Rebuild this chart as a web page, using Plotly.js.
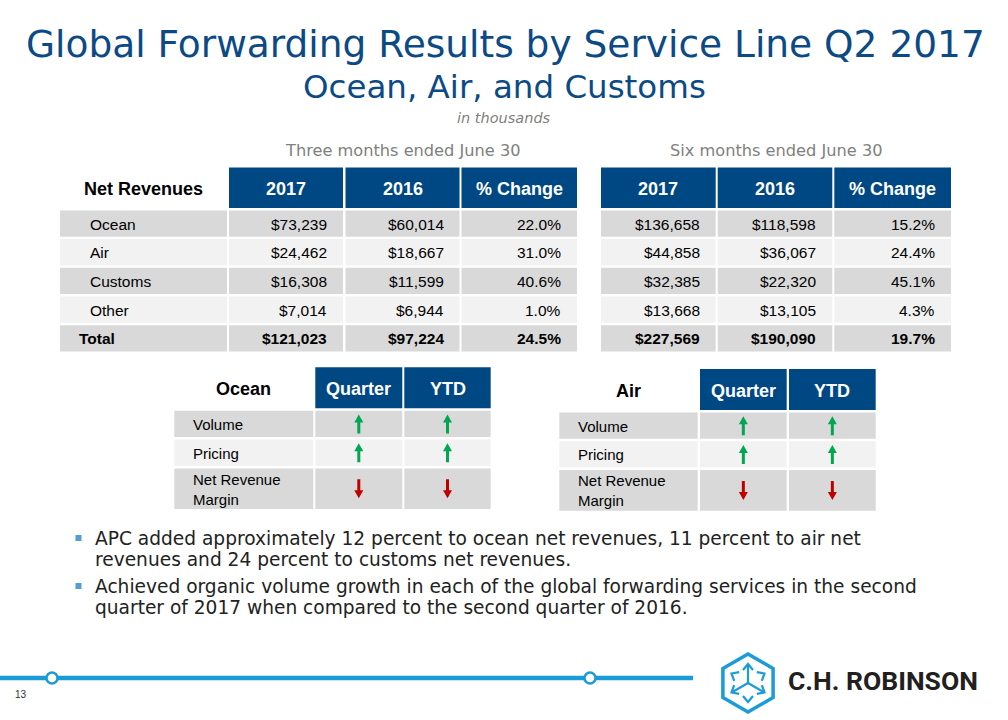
<!DOCTYPE html>
<html><head><meta charset="utf-8">
<script src="https://cdn.plot.ly/plotly-3.0.1.min.js"></script>
<style>html,body{margin:0;padding:0;background:#fff}#chart{width:1008px;height:720px}</style>
</head><body><div id="chart"></div>
<script>
// ---------------- data ----------------
const titleText = "Global Forwarding Results by Service Line Q2 2017";
const subtitleText = "Ocean, Air, and Customs";
const unitText = "in thousands";
const periodLabels = ["Three months ended June 30", "Six months ended June 30"];
const tableCorner = "Net Revenues";
const yearHeaders = ["2017", "2016", "% Change"];
const rowLabels = ["Ocean", "Air", "Customs", "Other", "Total"];
const q2017 = ["$73,239", "$24,462", "$16,308", "$7,014", "$121,023"];
const q2016 = ["$60,014", "$18,667", "$11,599", "$6,944", "$97,224"];
const qChange = ["22.0%", "31.0%", "40.6%", "1.0%", "24.5%"];
const ytd2017 = ["$136,658", "$44,858", "$32,385", "$13,668", "$227,569"];
const ytd2016 = ["$118,598", "$36,067", "$22,320", "$13,105", "$190,090"];
const ytdChange = ["15.2%", "24.4%", "45.1%", "4.3%", "19.7%"];
const metricHeaders = ["Quarter", "YTD"];
const metricLabels = ["Volume", "Pricing", "Net Revenue<br>Margin"];
const oceanQuarter = ["up", "up", "down"];
const oceanYTD = ["up", "up", "down"];
const airQuarter = ["up", "up", "down"];
const airYTD = ["up", "up", "down"];
const bulletLines = [
  ["APC added approximately 12 percent to ocean net revenues, 11 percent to air net",
   "revenues and 24 percent to customs net revenues."],
  ["Achieved organic volume growth in each of the global forwarding services in the second",
   "quarter of 2017 when compared to the second quarter of 2016."]
];
const pageNumber = "13";
const brandName = "C.H. ROBINSON";

// ---------------- style ----------------
const BLUE = '#004884', DARK = '#d9d9d9', LIGHT = '#f2f2f2', TITLE = '#0c4a86';
const LINEBLUE = '#1b9bd7', GREEN = '#00a651', RED = '#c00000';
const ARIAL = 'Liberation Sans, Arial, sans-serif';
const VERD = 'DejaVu Sans, Verdana, sans-serif';

const shapes = [], ann = [];
function rect(x0, y0, x1, y1, fill) {
  shapes.push({type: 'rect', xref: 'x', yref: 'y', x0, y0, x1, y1, fillcolor: fill, line: {width: 0}, layer: 'below'});
}
function txt(t, x, y, o) {
  const f = Object.assign({family: ARIAL, size: 15.5, color: '#000'}, (o && o.font) || {});
  const a = Object.assign({text: t, x, y, xref: 'x', yref: 'y', showarrow: false, xanchor: 'center', yanchor: 'middle'}, o || {});
  a.font = f;
  ann.push(a);
}
function arrow(cx, cy, dir, color) {
  const s = dir === 'up' ? -1 : 1; // tip direction
  const L = 9.5, hw = 4.5, sw = 1.5, hh = 8;
  const tip = cy + s * L, base = cy - s * L, neck = tip - s * hh;
  const p = `M ${cx - sw},${base} L ${cx - sw},${neck} L ${cx - hw},${neck} L ${cx},${tip} L ${cx + hw},${neck} L ${cx + sw},${neck} L ${cx + sw},${base} Z`;
  shapes.push({type: 'path', xref: 'x', yref: 'y', path: p, fillcolor: color, line: {width: 0}});
}

// ---------------- titles ----------------
txt(titleText, 505, 44, {font: {family: VERD, size: 37.5, color: TITLE}});
txt(subtitleText, 504, 87, {font: {family: VERD, size: 32.5, color: TITLE}});
txt('<i>' + unitText + '</i>', 504, 118, {font: {family: VERD, size: 14.5, color: '#7f7f7f'}});

// ---------------- net revenue tables ----------------
const hdrTop = 167.5, hdrH = 40.5, gap = 2.4, rowH = 26.3;
const leftCols = [[60, 227], [229, 343], [345.5, 459.5], [461.5, 577]];
const rightCols = [[601, 715.7], [717.7, 832.3], [834.3, 951]];
txt(periodLabels[0], (leftCols[1][0] + leftCols[3][1]) / 2, 150, {font: {family: VERD, size: 16.2, color: '#808080'}});
txt(periodLabels[1], (rightCols[0][0] + rightCols[2][1]) / 2, 150, {font: {family: VERD, size: 16.2, color: '#808080'}});

const hy = hdrTop + hdrH / 2 + 1;
txt('<b>' + tableCorner + '</b>', (leftCols[0][0] + leftCols[0][1]) / 2, hy, {font: {size: 18}});
[leftCols.slice(1), rightCols].forEach(cols => {
  cols.forEach((c, j) => {
    rect(c[0], hdrTop, c[1], hdrTop + hdrH, BLUE);
    txt('<b>' + yearHeaders[j] + '</b>', (c[0] + c[1]) / 2, hy, {font: {size: 18, color: '#fff'}});
  });
});
const leftVals = [q2017, q2016, qChange], rightVals = [ytd2017, ytd2016, ytdChange];
rowLabels.forEach((lab, i) => {
  const top = hdrTop + hdrH + gap + i * (rowH + gap);
  const cy = top + rowH / 2 + 0.5;
  const fill = i % 2 === 0 ? DARK : LIGHT;
  const isTotal = i === rowLabels.length - 1;
  const b = s => isTotal ? '<b>' + s + '</b>' : s;
  leftCols.concat(rightCols).forEach(c => rect(c[0], top, c[1], top + rowH, fill));
  txt(b(lab), leftCols[0][0] + (isTotal ? 17 : 28), cy, {xanchor: 'left'});
  leftVals.forEach((arr, j) => txt(b(arr[i]), leftCols[j + 1][1] - 14, cy, {xanchor: 'right'}));
  rightVals.forEach((arr, j) => txt(b(arr[i]), rightCols[j][1] - 14, cy, {xanchor: 'right'}));
});

// ---------------- metric tables ----------------
function metricTable(name, cols, top, quarter, ytd) {
  const hH = 41, g = 2.5, rH = 26.3, extra = 14.4;
  const hcy = top + hH / 2 + 1;
  txt('<b>' + name + '</b>', (cols[0][0] + cols[0][1]) / 2, hcy, {font: {size: 18}});
  metricHeaders.forEach((h, j) => {
    const c = cols[j + 1];
    rect(c[0], top, c[1], top + hH, BLUE);
    txt('<b>' + h + '</b>', (c[0] + c[1]) / 2, hcy, {font: {size: 18, color: '#fff'}});
  });
  let y = top + hH + g;
  metricLabels.forEach((lab, i) => {
    const lines = lab.split('<br>').length;
    const h = rH + extra * (lines - 1);
    const fill = i % 2 === 0 ? DARK : LIGHT;
    cols.forEach(c => rect(c[0], y, c[1], y + h, fill));
    const cy = y + h / 2;
    txt(lab, cols[0][0] + 17, cy + 0.5, {xanchor: 'left', align: 'left', font: {size: 15}});
    [quarter, ytd].forEach((arr, j) => {
      const c = cols[j + 1];
      arrow((c[0] + c[1]) / 2, cy, arr[i], arr[i] === 'up' ? GREEN : RED);
    });
    y += h + g;
  });
}
metricTable('Ocean', [[174.3, 313.3], [315.3, 402.3], [404.3, 490.7]], 367.3, oceanQuarter, oceanYTD);
metricTable('Air', [[559.3, 697.7], [700, 786.7], [789, 875.7]], 369, airQuarter, airYTD);

// ---------------- bullets ----------------
const bulletTop = [538, 586], lineStep = 21.5;
bulletLines.forEach((lines, k) => {
  shapes.push({type: 'rect', xref: 'x', yref: 'y', x0: 75.5, x1: 81.5, y0: bulletTop[k] - 3, y1: bulletTop[k] + 3,
    fillcolor: '#4f9fd6', line: {width: 0}});
  lines.forEach((ln, m) => txt(ln, 93, bulletTop[k] + m * lineStep, {xanchor: 'left', font: {family: VERD, size: 18.6, color: '#222'}}));
});

// ---------------- footer ----------------
txt(pageNumber, 21, 694, {font: {size: 10, color: '#333'}});
// logo hexagon
const cx = 748, cy = 683, R = 29;
const pts = [90, 30, -30, -90, -150, 150].map(a => [cx + R * Math.cos(a * Math.PI / 180), cy - R * Math.sin(a * Math.PI / 180)]);
shapes.push({type: 'path', xref: 'x', yref: 'y', path: 'M ' + pts.map(p => p[0].toFixed(1) + ',' + p[1].toFixed(1)).join(' L ') + ' Z',
  line: {color: LINEBLUE, width: 3.5}, fillcolor: 'rgba(0,0,0,0)'});
const r2 = 19;
[90, 210, 330].forEach(a => {
  const ex = cx + r2 * Math.cos(a * Math.PI / 180), ey = cy - r2 * Math.sin(a * Math.PI / 180);
  shapes.push({type: 'line', xref: 'x', yref: 'y', x0: cx, y0: cy, x1: ex, y1: ey, line: {color: LINEBLUE, width: 2.2}});
});
[90, 30, -30, -90, -150, 150].forEach(a => {
  const ex = cx + r2 * Math.cos(a * Math.PI / 180), ey = cy - r2 * Math.sin(a * Math.PI / 180);
  const back = 6, wid = 5;
  const ux = Math.cos(a * Math.PI / 180), uy = -Math.sin(a * Math.PI / 180);
  const bx = ex - ux * back, by = ey - uy * back;
  const px = -uy, py = ux;
  shapes.push({type: 'path', xref: 'x', yref: 'y',
    path: `M ${(bx + px * wid).toFixed(1)},${(by + py * wid).toFixed(1)} L ${ex.toFixed(1)},${ey.toFixed(1)} L ${(bx - px * wid).toFixed(1)},${(by - py * wid).toFixed(1)}`,
    line: {color: LINEBLUE, width: 2.2}});
});
txt(brandName, 786, 680, {xanchor: 'left', font: {family: 'Roboto, sans-serif', size: 26.5, color: '#231f20', weight: 700}});

const data = [
  {x: [0, 693], y: [678, 678], mode: 'lines', line: {color: LINEBLUE, width: 4.5}, hoverinfo: 'skip', showlegend: false},
  {x: [52, 590], y: [678, 678], mode: 'markers', marker: {size: 11, color: '#fff', line: {color: LINEBLUE, width: 2.5}}, hoverinfo: 'skip', showlegend: false}
];
const layout = {
  width: 1008, height: 720, margin: {l: 0, r: 0, t: 0, b: 0},
  paper_bgcolor: '#fff', plot_bgcolor: '#fff',
  xaxis: {range: [0, 1008], visible: false, fixedrange: true},
  yaxis: {range: [720, 0], visible: false, fixedrange: true},
  shapes, annotations: ann, showlegend: false
};
Plotly.newPlot('chart', data, layout, {displayModeBar: false, staticPlot: true});
</script></body></html>
